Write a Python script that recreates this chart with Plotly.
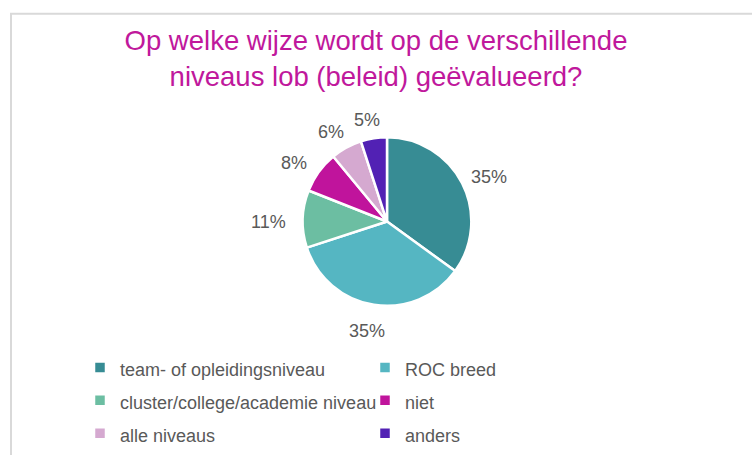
import math
import plotly.graph_objects as go

categories = ["team- of opleidingsniveau", "ROC breed", "cluster/college/academie niveau",
              "niet", "alle niveaus", "anders"]
values = [35, 35, 11, 8, 6, 5]
colors = ["#378C94", "#55B6C2", "#6CBEA2", "#C0149C", "#D5A9D0", "#5221B4"]

W, H = 752, 455
cx, cy, r = 387, 226, 86
LABEL_SIZE = 18

fig = go.Figure(go.Pie(
    labels=[f'<span style="font-size:18px">{c}</span>' for c in categories],
    values=values,
    sort=False,
    direction="clockwise",
    rotation=0,
    marker=dict(colors=colors, line=dict(color="white", width=2.5)),
    textinfo="none",
    domain=dict(x=[(cx - r) / W, (cx + r) / W], y=[1 - (cy + r) / H, 1 - (cy - r) / H]),
    showlegend=True,
))

# percentage labels placed outside each slice, computed from the data
total = sum(values)
annotations = []
cum = 0
for v in values:
    mid = 2 * math.pi * (cum + v / 2) / total
    cum += v
    dx, dy = math.sin(mid), -math.cos(mid)  # screen coords (y down)
    txt = f"{round(100 * v / total)}%"
    hw = (len(txt) - 1) * 0.556 * LABEL_SIZE / 2 + 0.889 * LABEL_SIZE / 2
    hh = 0.55 * LABEL_SIZE
    R = r + 13
    px = cx + R * dx + hw * dx - 2
    py = cy + R * dy + hh * dy + 4
    annotations.append(dict(
        text=txt, x=px / W, y=1 - py / H, xref="paper", yref="paper",
        xanchor="center", yanchor="middle", showarrow=False,
        font=dict(size=LABEL_SIZE, color="#595959", family="Liberation Sans, Arial"),
    ))

fig.update_layout(
    width=W, height=H,
    margin=dict(l=0, r=0, t=0, b=0),
    paper_bgcolor="white", plot_bgcolor="white",
    font=dict(family="Liberation Sans, Arial", color="#595959"),
    title=dict(
        text="Op welke wijze wordt op de verschillende<br>niveaus lob (beleid) geëvalueerd?",
        x=376 / W, xanchor="center", y=1 - 50 / H, yanchor="middle",
        font=dict(size=27.5, color="#C0189C", family="Liberation Sans, Arial"),
    ),
    legend=dict(
        orientation="h",
        x=80 / W, xanchor="left",
        y=1 - 353 / H, yanchor="top",
        entrywidth=240,
        font=dict(size=23, color="#595959", family="Liberation Sans, Arial"),
        itemclick=False,
    ),
    annotations=annotations,
    shapes=[dict(type="rect", xref="paper", yref="paper",
                 x0=11 / W, x1=1.05, y0=-0.05, y1=1 - 14 / H,
                 line=dict(color="#D9D9D9", width=2), fillcolor="rgba(0,0,0,0)", layer="below")],
)

fig.write_html("out.html")
